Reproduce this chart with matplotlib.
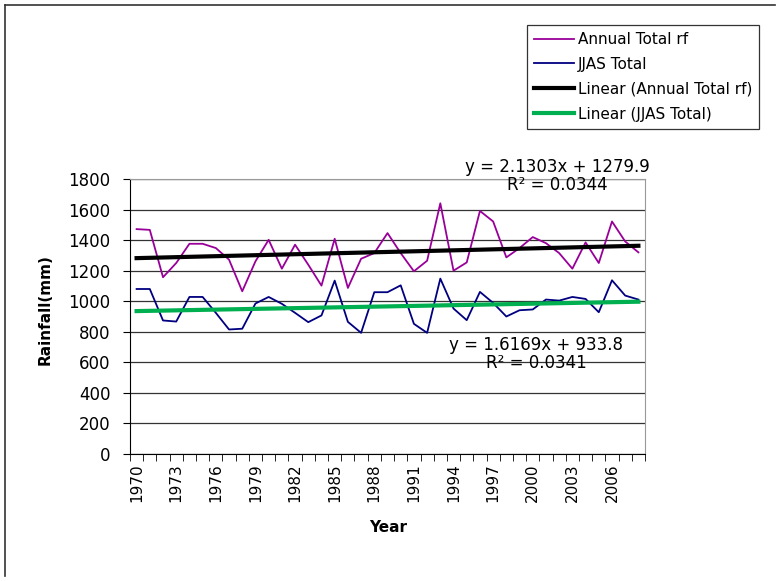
import numpy as np
import matplotlib.pyplot as plt

# Annual and JJAS rainfall totals (mm), 1970-2008
years = list(range(1970, 2009))
annual = [1472, 1467, 1157, 1250, 1376, 1376, 1348, 1272, 1065, 1261,
          1402, 1213, 1370, 1239, 1102, 1409, 1087, 1278, 1315, 1446,
          1315, 1196, 1265, 1641, 1200, 1254, 1591, 1522, 1287, 1348,
          1420, 1380, 1315, 1213, 1385, 1250, 1522, 1391, 1320]
jjas = [1080, 1080, 874, 867, 1028, 1028, 924, 815, 820, 985,
        1028, 983, 924, 863, 907, 1135, 865, 793, 1059, 1059,
        1104, 852, 793, 1148, 952, 876, 1061, 989, 900, 941,
        946, 1011, 1004, 1028, 1015, 928, 1137, 1037, 1011]

# trendline coefficients shown on the chart (x = 1..n)
annual_fit = (2.1303, 1279.9, 0.0344)
jjas_fit = (1.6169, 933.8, 0.0341)

W, H = 778, 581
fig = plt.figure(figsize=(W / 100, H / 100), dpi=100)
plt.rcParams['font.family'] = 'DejaVu Sans'

def fx(px):
    return px / W

def fy(py):
    return 1 - py / H

ax = fig.add_axes([fx(130), fy(454), fx(645) - fx(130), fy(179) - fy(454)])

x = np.arange(1, len(years) + 1)
ax.plot(x, annual, color='#990099', lw=1.3, label='Annual Total rf')
ax.plot(x, jjas, color='#000080', lw=1.3, label='JJAS Total')
ax.plot(x, annual_fit[0] * x + annual_fit[1], color='black', lw=3,
        label='Linear (Annual Total rf)')
ax.plot(x, jjas_fit[0] * x + jjas_fit[1], color='#00B050', lw=3,
        label='Linear (JJAS Total)')

ax.set_xlim(0.5, len(years) + 0.5)
ax.set_ylim(0, 1800)
ax.set_yticks(range(0, 1801, 200))
ax.yaxis.grid(True, color='#333333', lw=0.9)
ax.set_axisbelow(True)
ax.tick_params(axis='y', direction='out', length=5, labelsize=12, pad=9)

lab_idx = x[::3]
ax.set_xticks(lab_idx)
ax.set_xticklabels([str(years[i - 1]) for i in lab_idx], rotation=90, fontsize=11)
ax.set_xticks(np.arange(0.5, len(years) + 1), minor=True)
ax.tick_params(axis='x', which='major', length=0, pad=7)
ax.tick_params(axis='x', which='minor', direction='out', length=5)

for s in ['top', 'right']:
    ax.spines[s].set_color('#999999')
for s in ['left', 'bottom']:
    ax.spines[s].set_color('black')

fig.text(fx(45), fy(310), 'Rainfall(mm)', rotation=90, fontsize=11,
         fontweight='bold', ha='center', va='center')
fig.text(fx(388), fy(527), 'Year', fontsize=11, fontweight='bold',
         ha='center', va='center')

fig.text(fx(557), fy(176), 'y = %.4fx + %.1f\nR² = %.4f' % annual_fit,
         fontsize=12, ha='center', va='center', linespacing=1.0)
fig.text(fx(536), fy(354), 'y = %.4fx + %.1f\nR² = %.4f' % jjas_fit,
         fontsize=12, ha='center', va='center', linespacing=1.0)

leg = fig.legend(loc='upper left', bbox_to_anchor=(fx(527), fy(25)),
                 fontsize=11, frameon=True, fancybox=False, edgecolor='black',
                 handlelength=2.6, handletextpad=0.3, labelspacing=0.65,
                 borderpad=0.45, borderaxespad=0)
leg.get_frame().set_linewidth(0.9)

# outer border lines (top and left)
fig.add_artist(plt.Line2D([fx(5), fx(775)], [fy(5), fy(5)], color='#333333', lw=1.2))
fig.add_artist(plt.Line2D([fx(5), fx(5)], [fy(5), fy(576)], color='#333333', lw=1.2))

fig.savefig('out.png', dpi=100)
